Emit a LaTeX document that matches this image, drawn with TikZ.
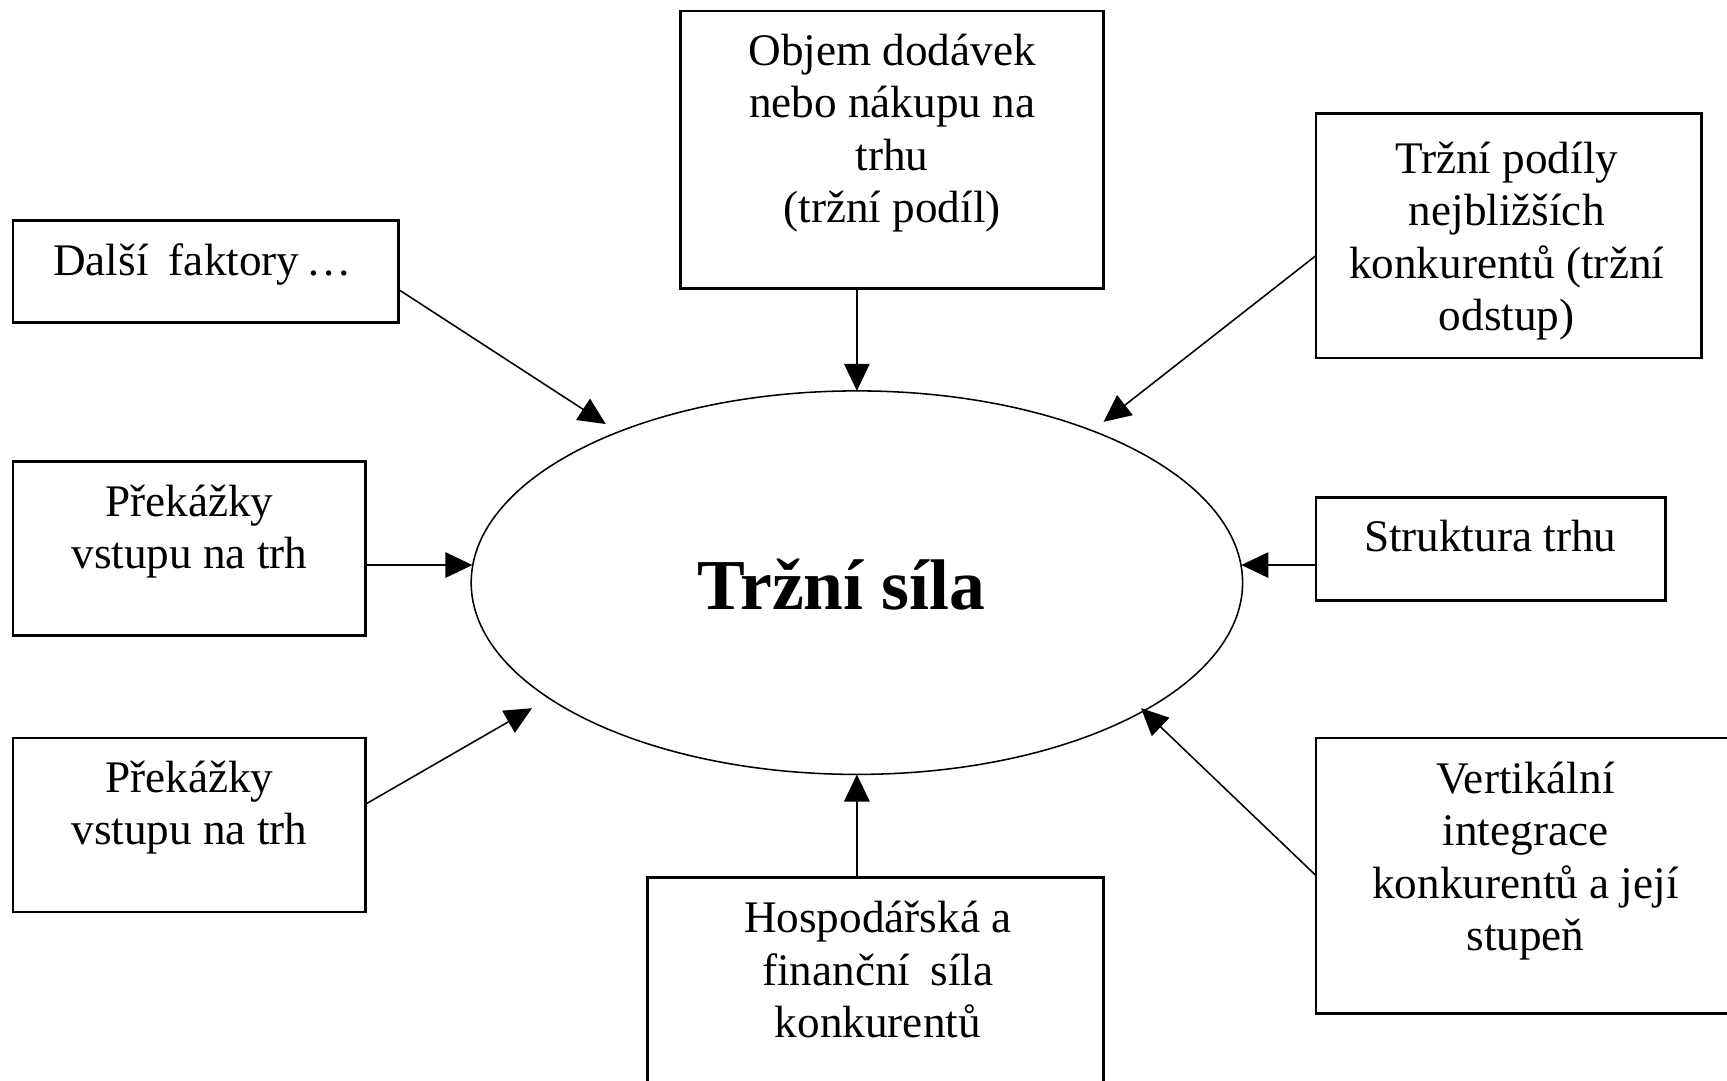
\documentclass[tikz,border=0pt]{standalone}
\usepackage{fontspec}
\setmainfont{Liberation Serif}
\usetikzlibrary{shapes.geometric,arrows.meta,calc}
\begin{document}
\begin{tikzpicture}[x=0.01cm,y=-0.01cm,
  box/.style={draw,line width=0.7pt,inner sep=0pt,outer sep=0pt},
  txt/.style={align=center,inner sep=0pt,anchor=base,font=\fontsize{11.67pt}{13.5pt}\selectfont},
  conn/.style={line width=0.7pt,-{Triangle[length=7pt,width=6.5pt]}},
  diag/.style={line width=0.4pt,-{Triangle[length=7pt,width=6.5pt]}}]
\useasboundingbox (0,0) rectangle (1568,981);
% central ellipse
\node[ellipse,draw,line width=0.4pt,inner sep=0pt,outer sep=0pt,minimum width=7cm,minimum height=3.48cm] (sila) at (778,529) {};
\node[inner sep=0pt,anchor=base,font=\fontsize{18.5pt}{22pt}\selectfont\bfseries] (title) at (764,553) {Tržní síla};
% boxes
\node[box,minimum width=3.84cm,minimum height=2.52cm] (objem) at (810,136) {};
\node[box,minimum width=3.5cm,minimum height=2.22cm] (podily) at (1370,214) {};
\node[box,minimum width=3.5cm,minimum height=0.93cm] (dalsi) at (187,246.5) {};
\node[box,minimum width=3.2cm,minimum height=1.58cm] (prek1) at (172,498) {};
\node[box,minimum width=3.2cm,minimum height=1.58cm] (prek2) at (172,749) {};
\node[box,minimum width=3.17cm,minimum height=0.93cm] (struktura) at (1353.5,498.5) {};
\node[box,minimum width=3.8cm,minimum height=2.5cm] (vert) at (1385,795) {};
\node[box,minimum width=4.14cm,minimum height=1.93cm] (hosp) at (795,893.5) {};
% texts (anchor base = baseline of the last line)
\node[txt] (tobjem) at (810,202) {Objem dodávek\\nebo nákupu na\\trhu\\(tržní podíl)};
\node[txt] (tpodily) at (1368,300) {Tržní podíly\\nejbližších\\konkurentů (tržní\\odstup)};
\node[txt] (tdalsi) at (184,250) {Další\hspace{0.45em}faktory\,…};
\node[txt] (tprek1) at (172,516) {Překážky\\vstupu na trh};
\node[txt] (tprek2) at (172,767) {Překážky\\vstupu na trh};
\node[txt] (tstruktura) at (1353,501) {Struktura trhu};
\node[txt] (tvert) at (1385,863) {Vertikální\\integrace\\konkurentů a její\\stupeň};
\node[txt] (thosp) at (797,942) {Hospodářská a\\finanční\hspace{0.45em}síla\\konkurentů};
% connectors
\draw[conn] (objem.south -| sila.north) -- (sila.north);
\draw[conn] (hosp.north -| sila.south) -- (sila.south);
\draw[conn] ($(prek1.east)+(0,15)$) -- ($(sila.center)+(-349,-16)$);
\draw[conn] ($(struktura.west)+(0,14.5)$) -- ($(sila.center)+(349,-16)$);
\draw[diag] ($(dalsi.east)+(0,16.5)$) -- ($(sila.center)+(-228,-144)$);
\draw[diag] ($(podily.west)+(0,18)$) -- ($(sila.center)+(224,-146)$);
\draw[diag] ($(prek2.east)+(0,-19)$) -- ($(sila.center)+(-295,114)$);
\draw[diag] (vert.west) -- ($(sila.center)+(258,114)$);
\end{tikzpicture}
\end{document}
